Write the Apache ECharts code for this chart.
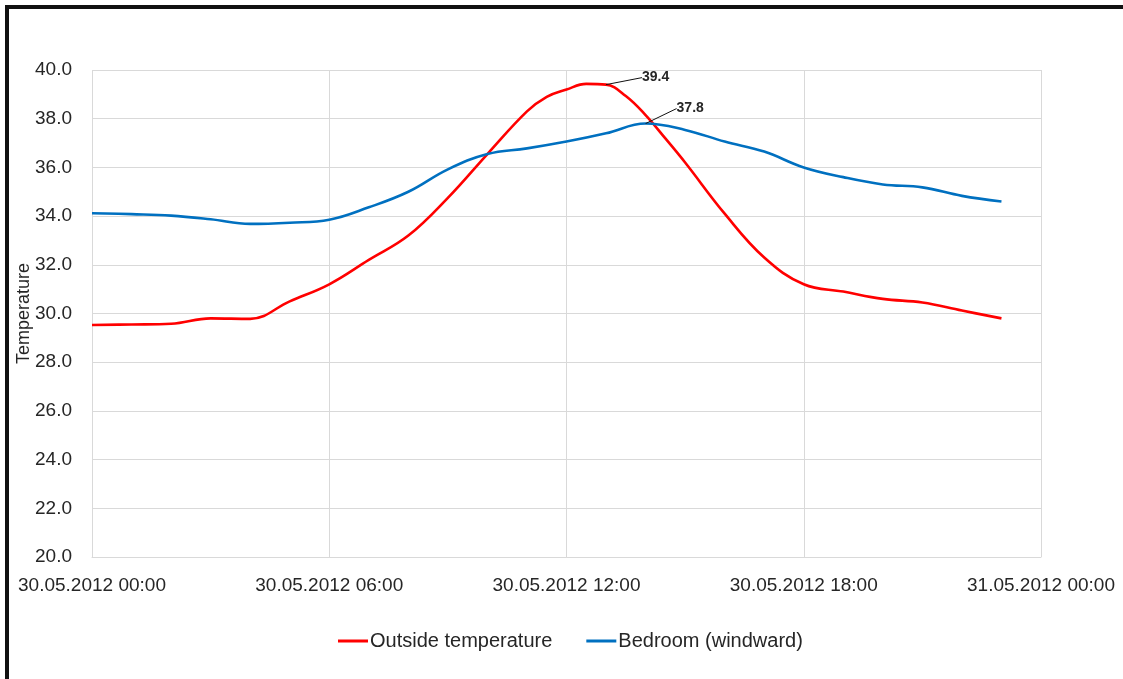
<!DOCTYPE html>
<html>
<head>
<meta charset="utf-8">
<script src="https://cdn.jsdelivr.net/npm/echarts@6/dist/echarts.min.js"></script>
<style>
html,body{margin:0;padding:0;background:#fff;}
#chart{width:1123px;height:679px;}
</style>
</head>
<body>
<div id="chart"></div>
<script>
// hours since 30.05.2012 00:00
var outsideHours = [0,1,2,3,4,5,6,7,8,9,10,11,11.5,12,12.5,13,13.5,14,14.5,15,16,17,18,19,20,21,22,23];
var outsideTemp  = [29.53,29.55,29.58,29.8,29.78,30.5,31.2,32.2,33.2,34.75,36.55,38.3,38.9,39.2,39.43,39.4,38.93,38.15,37.19,36.2,34.1,32.3,31.2,30.9,30.6,30.45,30.12,29.8];
var bedroomHours = [0,1,2,3,4,5,6,7,8,9,10,11,12,13,14,15,16,17,18,19,20,21,22,23];
var bedroomTemp  = [34.12,34.08,34.02,33.87,33.68,33.73,33.85,34.36,35.0,35.92,36.55,36.78,37.06,37.4,37.8,37.54,37.06,36.65,36.0,35.6,35.3,35.18,34.83,34.6];
var xTickLabels = ['30.05.2012 00:00','30.05.2012 06:00','30.05.2012 12:00','30.05.2012 18:00','31.05.2012 00:00'];
var seriesNames = ['Outside temperature','Bedroom (windward)'];
var outsideLabelHour = 13;
var bedroomLabelHour = 14;

function build(hrs, vals, labelHour){
  return hrs.map(function(h,i){
    var item = {value:[h, vals[i]]};
    if(h===labelHour){ item.label = {show:true}; }
    return item;
  });
}

var FONT = 'Liberation Sans';
var TXT = '#262626';
var chart = echarts.init(document.getElementById('chart'), null, {renderer:'canvas'});
chart.setOption({
  animation:false,
  backgroundColor:'#ffffff',
  textStyle:{fontFamily:FONT},
  graphic:[
    {type:'rect', shape:{x:5,y:5,width:1118,height:4}, style:{fill:'#111'}},
    {type:'rect', shape:{x:5,y:5,width:4,height:674}, style:{fill:'#111'}}
  ],
  grid:{left:92, right:82, top:70, bottom:122, containLabel:false, outerBoundsMode:'none'},
  legend:{
    data:seriesNames,
    left:333, top:626,
    icon:'rect', itemWidth:30, itemHeight:3, itemGap:34,
    textStyle:{fontFamily:FONT, fontSize:20, color:TXT, padding:[0,0,0,-3]}
  },
  xAxis:{
    type:'value', min:0, max:24, interval:6,
    axisLine:{show:true, lineStyle:{color:'#d9d9d9', width:1}},
    axisTick:{show:false},
    splitLine:{show:true, lineStyle:{color:'#d9d9d9', width:1}},
    axisLabel:{
      fontFamily:FONT, fontSize:19, color:TXT, margin:19,
      showMinLabel:true, showMaxLabel:true, hideOverlap:false,
      formatter:function(v){ return xTickLabels[Math.round(v/6)]; }
    }
  },
  yAxis:{
    type:'value', min:20, max:40, interval:2,
    name:'Temperature', nameLocation:'middle', nameGap:59, nameRotate:90,
    nameMoveOverlap:false,
    nameTextStyle:{fontFamily:FONT, fontSize:18, color:TXT},
    axisLine:{show:false},
    axisTick:{show:false},
    splitLine:{show:true, lineStyle:{color:'#d9d9d9', width:1}},
    axisLabel:{fontFamily:FONT, fontSize:19, color:TXT, margin:20,
      formatter:function(v){ return v.toFixed(1); }}
  },
  series:[
    {
      name:seriesNames[0], type:'line', smooth:0.4,
      data:build(outsideHours, outsideTemp, outsideLabelHour),
      symbol:'circle', symbolSize:0, showSymbol:true,
      color:'#ff0000',
      lineStyle:{color:'#ff0000', width:2.6},
      label:{show:false, position:'right', fontFamily:FONT, fontSize:14, fontWeight:'bold', color:TXT,
        formatter:function(p){ return p.value[1].toFixed(1); }},
      labelLayout:{dx:31, dy:-7},
      labelLine:{show:true, lineStyle:{color:'#111', width:1}},
      emphasis:{disabled:true}
    },
    {
      name:seriesNames[1], type:'line', smooth:0.4,
      data:build(bedroomHours, bedroomTemp, bedroomLabelHour),
      symbol:'circle', symbolSize:0, showSymbol:true,
      color:'#0070c0',
      lineStyle:{color:'#0070c0', width:2.6},
      label:{show:false, position:'right', fontFamily:FONT, fontSize:14, fontWeight:'bold', color:TXT,
        formatter:function(p){ return p.value[1].toFixed(1); }},
      labelLayout:{dx:26, dy:-15},
      labelLine:{show:true, lineStyle:{color:'#111', width:1}},
      emphasis:{disabled:true}
    }
  ]
});
</script>
</body>
</html>
